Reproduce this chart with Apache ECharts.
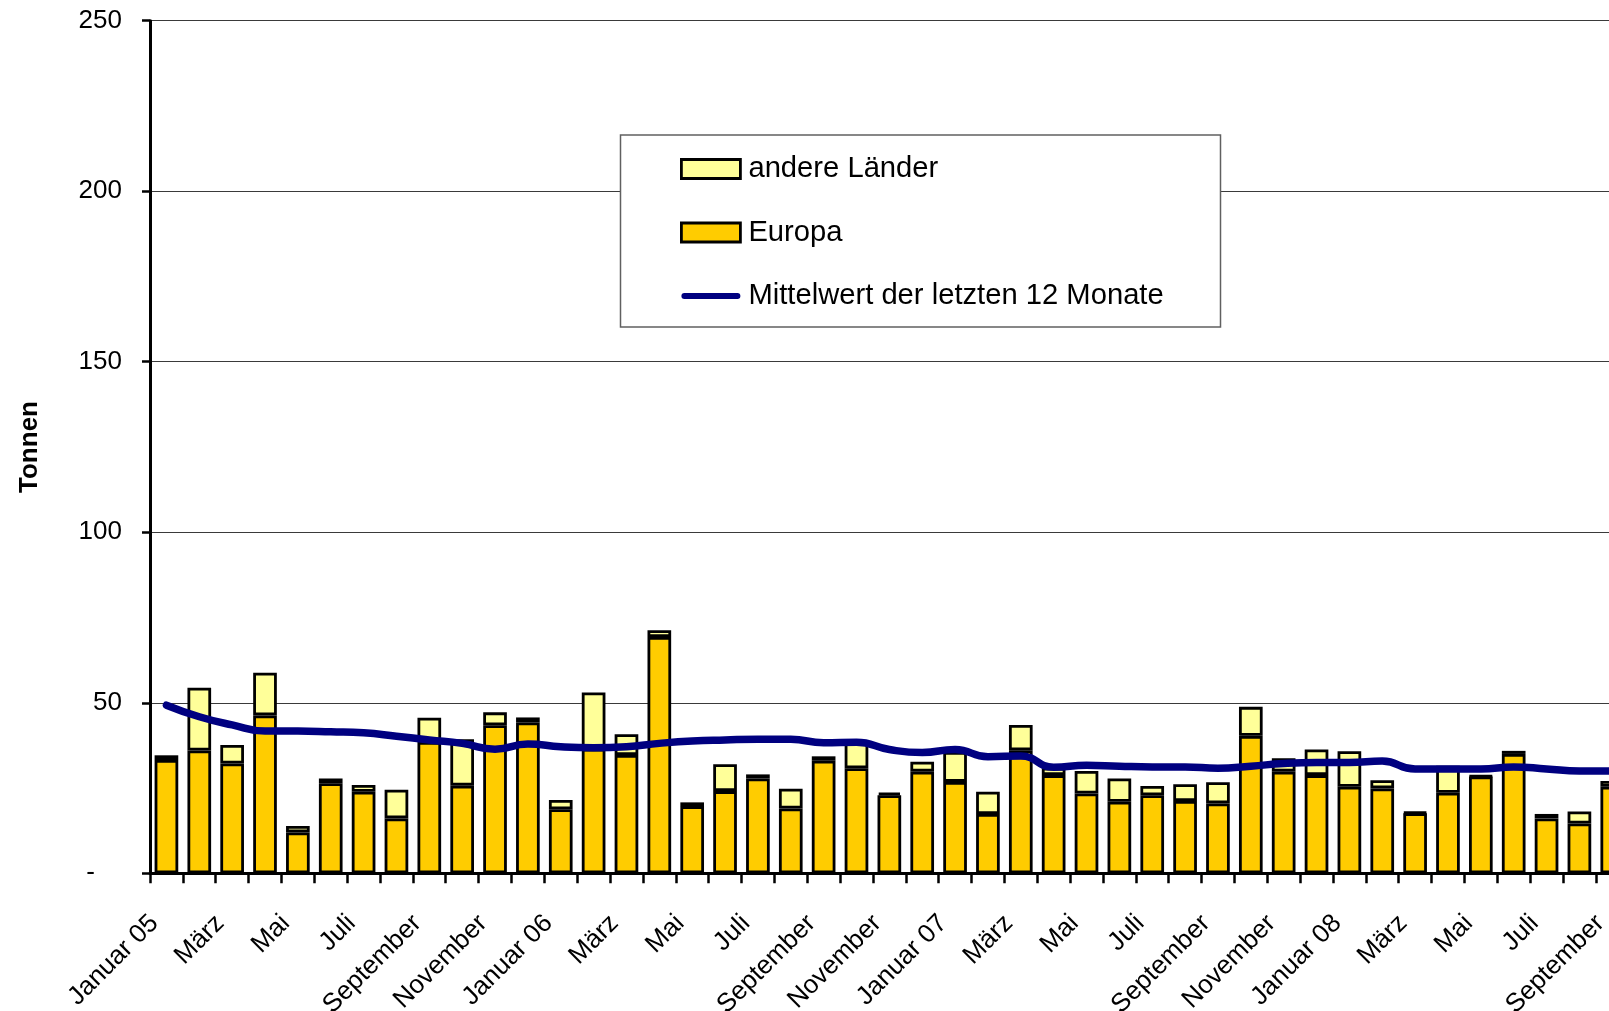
<!DOCTYPE html>
<html>
<head>
<meta charset="utf-8">
<script src="https://cdn.jsdelivr.net/npm/echarts@6/dist/echarts.min.js"></script>
<style>
html,body{margin:0;padding:0;background:#fff;}
#chart{width:1609px;height:1011px;}
</style>
</head>
<body>
<div id="chart"></div>
<script>
var months = ['Januar 05','Februar 05','März 05','April 05','Mai 05','Juni 05','Juli 05','August 05','September 05','Oktober 05','November 05','Dezember 05',
  'Januar 06','Februar 06','März 06','April 06','Mai 06','Juni 06','Juli 06','August 06','September 06','Oktober 06','November 06','Dezember 06',
  'Januar 07','Februar 07','März 07','April 07','Mai 07','Juni 07','Juli 07','August 07','September 07','Oktober 07','November 07','Dezember 07',
  'Januar 08','Februar 08','März 08','April 08','Mai 08','Juni 08','Juli 08','August 08','September 08'];

var europa = [33.2, 36.0, 32.2, 46.3, 12.0, 26.4, 23.9, 16.1, 38.5, 25.7, 43.4, 44.2,
  18.8, 36.5, 34.7, 69.3, 19.7, 24.1, 27.8, 19.0, 33.0, 30.8, 22.9, 29.8,
  26.8, 17.4, 36.1, 28.8, 23.4, 21.0, 22.9, 21.2, 20.5, 40.3, 29.8, 28.8,
  25.4, 24.9, 17.6, 23.6, 28.4, 35.0, 16.1, 14.6, 25.4];

var andereLaender = [1.4, 18.4, 5.4, 12.5, 1.9, 1.4, 2.0, 8.4, 7.1, 13.6, 3.8, 1.5,
  2.7, 16.5, 6.1, 2.0, 1.1, 7.9, 1.2, 5.8, 1.3, 8.3, 0.7, 2.9,
  8.8, 6.5, 7.4, 2.2, 6.6, 6.8, 2.7, 4.9, 6.2, 8.5, 3.9, 7.5,
  10.4, 2.4, 0.3, 7.9, 0.2, 0.9, 1.3, 3.5, 1.7];

var mittelwert = [49.3, 45.9, 43.5, 41.7, 41.7, 41.5, 41.2, 40.2, 39.1, 38.1, 36.4, 37.9,
  37.1, 36.8, 37.1, 38.1, 38.8, 39.1, 39.3, 39.3, 38.3, 38.4, 36.3, 35.4,
  36.3, 34.2, 34.4, 31.1, 31.7, 31.4, 31.2, 31.2, 30.8, 31.4, 32.2, 32.5,
  32.5, 32.9, 30.6, 30.6, 30.6, 31.2, 30.6, 30.0, 30.0];

var yTicks = [0, 50, 100, 150, 200, 250];

var seriesNames = ['andere Länder', 'Europa', 'Mittelwert der letzten 12 Monate'];
var FONT = '"Liberation Sans", Arial, Helvetica, sans-serif';

var chart = echarts.init(document.getElementById('chart'), null, {renderer: 'canvas'});
var catW = 32.86;
var option = {
  backgroundColor: '#ffffff',
  animation: false,
  textStyle: {fontFamily: FONT, color: '#000'},
  grid: {left: 150, top: 20.7, width: catW * months.length, height: 852.6, containLabel: false, outerBoundsMode: 'none'},
  graphic: [{
    type: 'rect', z: 10, zlevel: 0,
    shape: {x: 620.5, y: 135, width: 600, height: 192},
    style: {fill: '#ffffff', stroke: '#606060', lineWidth: 1.5}
  }],
  legend: {
    z: 12, orient: 'vertical', left: 680, top: 154.5, padding: 0,
    itemWidth: 59, itemHeight: 19, itemGap: 34.5,
    textStyle: {fontFamily: FONT, fontSize: 29.2, color: '#000', lineHeight: 28, padding: [0, 0, 0, 3]},
    data: [
      {name: seriesNames[0], icon: 'rect', itemStyle: {color: '#FFFF99', borderColor: '#000', borderWidth: 2.8}},
      {name: seriesNames[1], icon: 'rect', itemStyle: {color: '#FFCC00', borderColor: '#000', borderWidth: 2.8}},
      {name: seriesNames[2], icon: 'path://M3.3,0 L61.7,0 A3.3,3.3 0 0 1 61.7,6.6 L3.3,6.6 A3.3,3.3 0 0 1 3.3,0 Z', itemStyle: {color: '#000080', borderWidth: 0}}
    ]
  },
  xAxis: {
    type: 'category', data: months, boundaryGap: true,
    axisLine: {show: true, lineStyle: {color: '#000', width: 3}},
    axisTick: {show: true, interval: 0, length: 10, lineStyle: {color: '#000', width: 2.5}},
    axisLabel: {
      interval: 1, rotate: 45, margin: 34, fontSize: 26, color: '#000', fontFamily: FONT,
      padding: [0, 17, 0, 0],
      formatter: function (v) { return v.indexOf('Januar') === 0 ? v : v.split(' ')[0]; }
    },
    splitLine: {show: false}
  },
  yAxis: {
    type: 'value', min: yTicks[0], max: yTicks[yTicks.length - 1], interval: 50,
    name: 'Tonnen', nameLocation: 'middle', nameGap: 107, nameRotate: 90,
    nameTextStyle: {fontFamily: FONT, fontSize: 26, fontWeight: 'bold', color: '#000'},
    axisLine: {show: true, lineStyle: {color: '#000', width: 3}},
    axisTick: {show: true, length: 8, lineStyle: {color: '#000', width: 2.5}},
    axisLabel: {
      margin: 28, fontSize: 26, color: '#000', fontFamily: FONT,
      formatter: function (v) { return v === 0 ? '{d|-}' : String(v); },
      rich: {d: {fontSize: 26, fontFamily: FONT, color: '#000', padding: [0, 27, 0, 0]}}
    },
    splitLine: {show: true, lineStyle: {color: '#3a3a3a', width: 1.2}}
  },
  series: [
    {
      name: seriesNames[1], type: 'bar', stack: 'total', data: europa,
      barCategoryGap: '28%',
      itemStyle: {color: '#FFCC00', borderColor: '#000', borderWidth: 2.8},
      z: 2
    },
    {
      name: seriesNames[0], type: 'bar', stack: 'total', data: andereLaender,
      barCategoryGap: '28%',
      itemStyle: {color: '#FFFF99', borderColor: '#000', borderWidth: 2.8},
      z: 2
    },
    {
      name: seriesNames[2], type: 'line', data: mittelwert, smooth: 0.5,
      symbol: 'none', showSymbol: false,
      lineStyle: {color: '#000080', width: 7.5, cap: 'round', join: 'round'},
      itemStyle: {color: '#000080'},
      z: 5
    }
  ]
};
chart.setOption(option);
</script>
</body>
</html>
